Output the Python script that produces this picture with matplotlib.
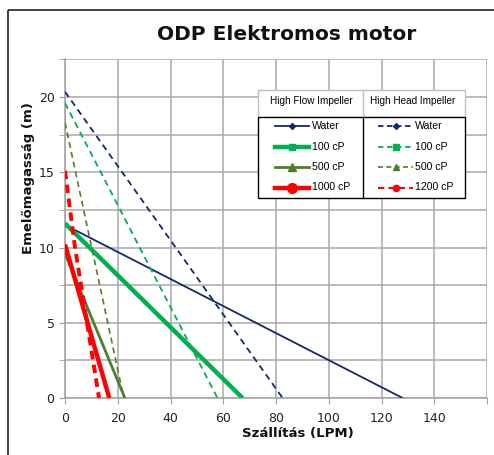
import matplotlib
matplotlib.use('Agg')
import matplotlib.pyplot as plt
from matplotlib.patches import Rectangle
import numpy as np

# High Flow Impeller curves: flow (LPM) vs head (m)
hf_flow_water = [0, 128]
hf_head_water = [11.5, 0]
hf_flow_100 = [0, 67.3]
hf_head_100 = [11.6, 0]
hf_flow_500 = [0, 22.7]
hf_head_500 = [9.6, 0]
hf_flow_1000 = [0, 16.8]
hf_head_1000 = [10.2, 0]

# High Head Impeller curves
hh_flow_water = [0, 82.5]
hh_head_water = [20.35, 0]
hh_flow_100 = [0, 57.8]
hh_head_100 = [19.6, 0]
hh_flow_500 = [0, 22.3]
hh_head_500 = [18.3, 0]
hh_flow_1200 = [0, 3.8, 12.9]
hh_head_1200 = [15.1, 10.0, 0]

hf_labels = ['Water', '100 cP', '500 cP', '1000 cP']
hh_labels = ['Water', '100 cP', '500 cP', '1200 cP']

x_ticks = [0, 20, 40, 60, 80, 100, 120, 140, 160]
y_ticks = [0, 5, 10, 15, 20]

navy = '#13296B'
green = '#00B050'
olive = '#4F7F2E'
red = '#FF0000'

# (color, line width, marker, marker size)
hf_style = [(navy, 1.3, 'D', 3), (green, 3.2, 's', 4.5), (olive, 2.0, '^', 6), (red, 3.2, 'o', 7)]
hh_style = [(navy, 1.3, 'D', 3), (green, 1.3, 's', 4), (olive, 1.2, '^', 4), (red, 2.8, 'o', 4.5)]

hf_data = [(hf_flow_water, hf_head_water), (hf_flow_100, hf_head_100),
           (hf_flow_500, hf_head_500), (hf_flow_1000, hf_head_1000)]
hh_data = [(hh_flow_water, hh_head_water), (hh_flow_100, hh_head_100),
           (hh_flow_500, hh_head_500), (hh_flow_1200, hh_head_1200)]

W, H = 494, 455
fig = plt.figure(figsize=(W / 100, H / 100), dpi=100)
ax = fig.add_axes([65 / W, 1 - 398 / H, (487 - 65) / W, (398 - 59.4) / H])

for (x, y), (c, lw, m, ms) in zip(hf_data, hf_style):
    ax.plot(x, y, color=c, lw=lw, solid_capstyle='butt', zorder=3)
for (x, y), (c, lw, m, ms) in zip(hh_data, hh_style):
    dash = (2.2, 1.4) if lw > 2 else (3.5, 2.5)
    ax.plot(x, y, color=c, lw=lw, dashes=dash, zorder=3)

ax.set_xlim(0, 160)
ax.set_ylim(0, 22.5)
ax.set_xticks(x_ticks)
ax.set_xticklabels([str(v) for v in x_ticks[:-1]] + [''])
ax.set_yticks(y_ticks)
ax.set_yticks(np.arange(2.5, 22.6, 5), minor=True)
ax.grid(True, which='both', color='#A8A8A8', lw=1.1, zorder=0)
ax.grid(False, which='minor', axis='x')
for s in ['top', 'right']:
    ax.spines[s].set_visible(False)
for s in ['left', 'bottom']:
    ax.spines[s].set_color('#A0A0A0')
    ax.spines[s].set_linewidth(1.1)
ax.tick_params(which='both', color='#A0A0A0', length=4, labelsize=9, labelcolor='#222222')
ax.tick_params(axis='x', which='minor', length=0)
ax.tick_params(axis='x', pad=6)

# overlay in pixel coordinates for title, labels, frame and legend table
ov = fig.add_axes([0, 0, 1, 1])
ov.set_xlim(0, W)
ov.set_ylim(H, 0)
ov.axis('off')
ov.patch.set_alpha(0)

ov.add_patch(Rectangle((8, 10), 600, 600, fill=False, ec='#222222', lw=1.2))
ov.text(287, 35, 'ODP Elektromos motor', ha='center', va='center',
        fontsize=14.5, fontweight='bold', color='#111111')
ov.text(298, 434, 'Szállítás (LPM)', ha='center', va='center',
        fontsize=9.5, fontweight='bold', color='#111111')
ov.text(28, 178, 'Emelőmagasság (m)', ha='center', va='center', rotation=90,
        fontsize=9.5, fontweight='bold', color='#111111')

# legend table
lx0, lx1, lmid = 258, 465, 363
ov.add_patch(Rectangle((lx0, 89.5), lx1 - lx0, 27.5, fc='white', ec='#C0C0C0', lw=1, zorder=5))
ov.add_patch(Rectangle((lx0, 117), lx1 - lx0, 81, fc='white', ec='black', lw=1, zorder=5))
ov.plot([lmid, lmid], [89.5, 117], color='#C0C0C0', lw=1, zorder=6)
ov.plot([lmid, lmid], [117, 198], color='black', lw=1, zorder=6)
ov.text(311, 101, 'High Flow Impeller', ha='center', va='center', fontsize=7.2,
        family='Liberation Sans', zorder=7)
ov.text(413, 101, 'High Head Impeller', ha='center', va='center', fontsize=7.2,
        family='Liberation Sans', zorder=7)

rows = [126, 146.5, 167, 187.5]
for r, lab, (c, lw, m, ms) in zip(rows, hf_labels, hf_style):
    ov.plot([275, 309], [r, r], color=c, lw=lw, zorder=7)
    ov.plot([291.7], [r], marker=m, ms=ms, color=c, zorder=8)
    ov.text(311.5, r, lab, va='center', fontsize=7.6, family='Liberation Sans', zorder=7)
for r, lab, (c, lw, m, ms) in zip(rows, hh_labels, hh_style):
    ov.plot([378, 413], [r, r], color=c, lw=min(lw, 1.5), dashes=(3, 2), zorder=7)
    ov.plot([395.5], [r], marker=m, ms=ms, color=c, zorder=8)
    ov.text(415, r, lab, va='center', fontsize=7.6, family='Liberation Sans', zorder=7)

fig.savefig('out.png', dpi=100)
